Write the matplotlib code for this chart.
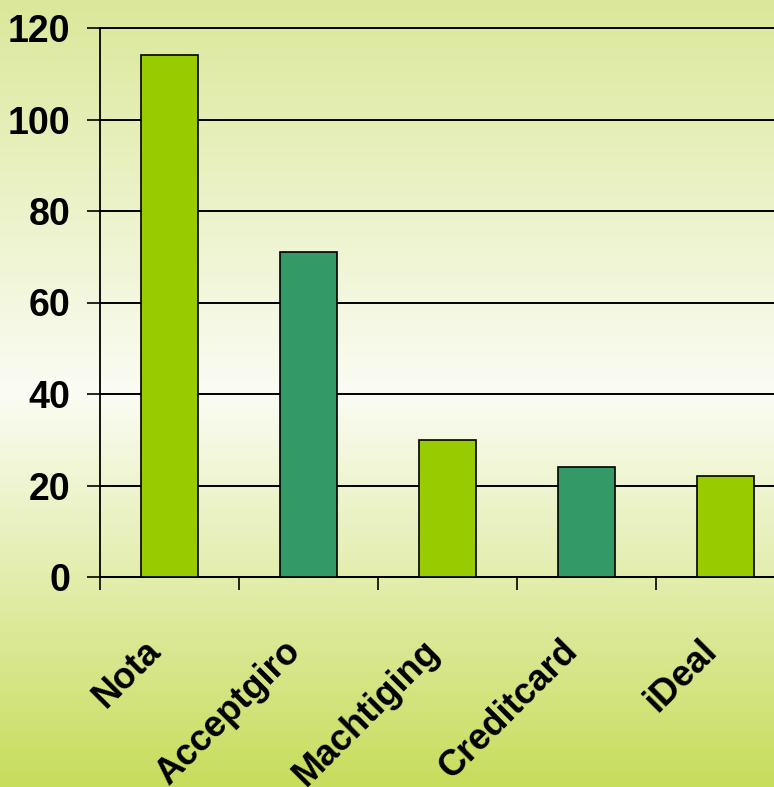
import numpy as np
import matplotlib.pyplot as plt
from matplotlib.colors import LinearSegmentedColormap
from matplotlib.transforms import ScaledTranslation

categories = ['Nota', 'Acceptgiro', 'Machtiging', 'Creditcard', 'iDeal']
values = [114, 71, 30, 24, 22]
bar_colors = ['#99cc00', '#339966', '#99cc00', '#339966', '#99cc00']

plt.rcParams['font.family'] = ['Liberation Sans Narrow', 'Liberation Sans', 'DejaVu Sans']
plt.rcParams['font.weight'] = 'bold'

fig = plt.figure(figsize=(7.74, 7.87), dpi=100)

# background gradient: yellow-green at top, near white in the middle, stronger green at bottom
bg = fig.add_axes([0, 0, 1, 1], zorder=0)
cmap = LinearSegmentedColormap.from_list(
    'bg', [(0.0, '#dbe89a'), (0.5, '#fbfcf4'), (1.0, '#c7dd5c')])
grad = np.linspace(0, 1, 256).reshape(-1, 1)
bg.imshow(grad, aspect='auto', cmap=cmap, extent=[0, 1, 0, 1])
bg.axis('off')

ax = fig.add_axes([100 / 774, 210 / 787, 695 / 774, 549 / 787], zorder=1)
ax.patch.set_alpha(0)

x = np.arange(len(categories))
ax.bar(x, values, width=0.41, color=bar_colors, edgecolor='black', linewidth=1.2, zorder=3)

ax.set_xlim(-0.5, len(categories) - 0.5)
ax.set_ylim(0, 120)
ax.set_yticks(range(0, 121, 20))
ax.yaxis.grid(True, color='black', linewidth=1.4, zorder=1)
ax.set_axisbelow(True)
for gl in ax.get_ygridlines():
    gl.set_clip_on(False)

ax.set_xticks(x)
ax.set_xticklabels(categories, rotation=45, ha='right', rotation_mode='anchor')
ax.set_xticks(np.arange(-0.5, len(categories), 1), minor=True)
ax.tick_params(axis='x', which='major', length=0, pad=50, labelsize=26)
ax.tick_params(axis='x', which='minor', length=9.5, width=1.2, direction='out')
ax.tick_params(axis='y', length=9.5, width=1.2, direction='out', pad=12, labelsize=27)

# nudge the rotated labels left and up, like the original
shift = ScaledTranslation(-0.26, 0.13, fig.dpi_scale_trans)
for lbl in ax.get_xticklabels():
    lbl.set_transform(lbl.get_transform() + shift)

for s in ['top', 'right']:
    ax.spines[s].set_visible(False)
for s in ['left', 'bottom']:
    ax.spines[s].set_linewidth(1.3)
    ax.spines[s].set_color('black')

fig.savefig('out.png', dpi=100)
